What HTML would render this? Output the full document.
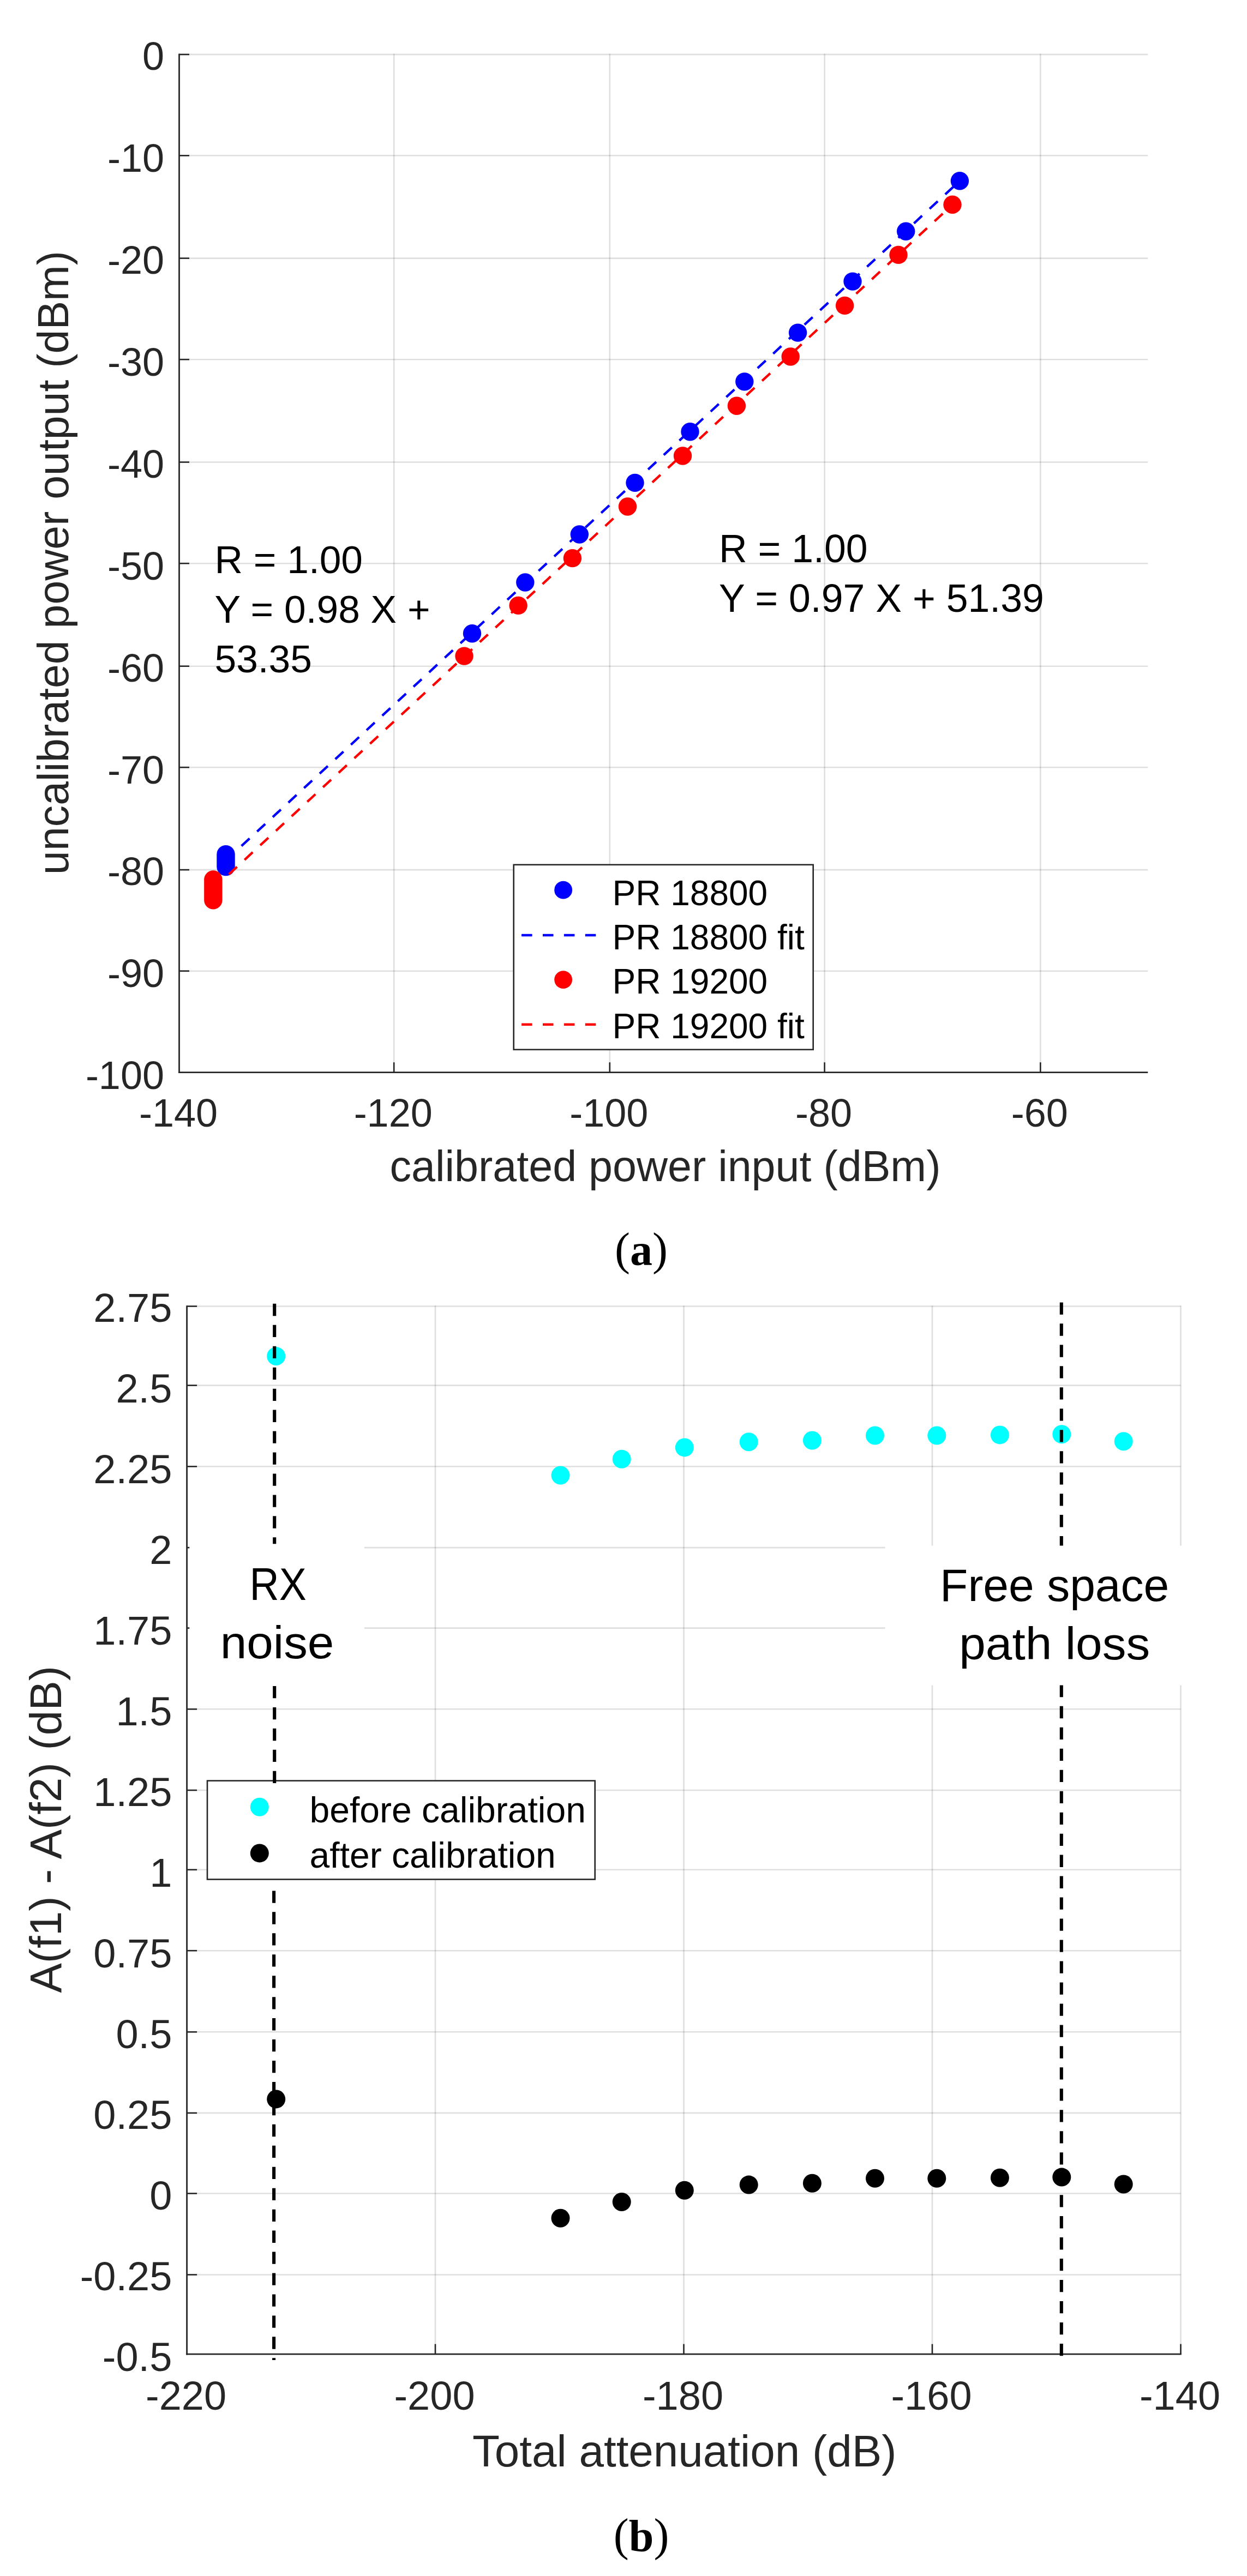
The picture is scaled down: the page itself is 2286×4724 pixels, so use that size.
<!DOCTYPE html>
<html lang="en">
<head>
<meta charset="utf-8">
<title>Figure: calibration plots</title>
<style>
html,body{margin:0;padding:0;background:#fff;}
body{width:2286px;height:4724px;overflow:hidden;}
svg{display:block;}
text{white-space:pre;}
</style>
</head>
<body>
<svg width="2286" height="4724" viewBox="0 0 2286 4724">
<rect x="0" y="0" width="2286" height="4724" fill="#ffffff"/>
<g id="chart-a">
<line x1="328.50" y1="99.90" x2="2104.30" y2="99.90" stroke="#262626" stroke-opacity="0.15" stroke-width="2.6" />
<line x1="328.50" y1="285.30" x2="2104.30" y2="285.30" stroke="#262626" stroke-opacity="0.15" stroke-width="2.6" />
<line x1="328.50" y1="473.60" x2="2104.30" y2="473.60" stroke="#262626" stroke-opacity="0.15" stroke-width="2.6" />
<line x1="328.50" y1="659.20" x2="2104.30" y2="659.20" stroke="#262626" stroke-opacity="0.15" stroke-width="2.6" />
<line x1="328.50" y1="847.50" x2="2104.30" y2="847.50" stroke="#262626" stroke-opacity="0.15" stroke-width="2.6" />
<line x1="328.50" y1="1033.20" x2="2104.30" y2="1033.20" stroke="#262626" stroke-opacity="0.15" stroke-width="2.6" />
<line x1="328.50" y1="1221.70" x2="2104.30" y2="1221.70" stroke="#262626" stroke-opacity="0.15" stroke-width="2.6" />
<line x1="328.50" y1="1407.20" x2="2104.30" y2="1407.20" stroke="#262626" stroke-opacity="0.15" stroke-width="2.6" />
<line x1="328.50" y1="1595.10" x2="2104.30" y2="1595.10" stroke="#262626" stroke-opacity="0.15" stroke-width="2.6" />
<line x1="328.50" y1="1780.70" x2="2104.30" y2="1780.70" stroke="#262626" stroke-opacity="0.15" stroke-width="2.6" />
<line x1="722.20" y1="98.60" x2="722.20" y2="1966.70" stroke="#262626" stroke-opacity="0.15" stroke-width="2.6" />
<line x1="1117.80" y1="98.60" x2="1117.80" y2="1966.70" stroke="#262626" stroke-opacity="0.15" stroke-width="2.6" />
<line x1="1511.60" y1="98.60" x2="1511.60" y2="1966.70" stroke="#262626" stroke-opacity="0.15" stroke-width="2.6" />
<line x1="1907.30" y1="98.60" x2="1907.30" y2="1966.70" stroke="#262626" stroke-opacity="0.15" stroke-width="2.6" />
<line x1="328.50" y1="98.60" x2="328.50" y2="1968.00" stroke="#262626" stroke-width="2.8" />
<line x1="327.10" y1="1966.70" x2="2104.30" y2="1966.70" stroke="#262626" stroke-width="2.8" />
<line x1="328.50" y1="99.90" x2="347.00" y2="99.90" stroke="#262626" stroke-width="2.6" />
<line x1="328.50" y1="285.30" x2="347.00" y2="285.30" stroke="#262626" stroke-width="2.6" />
<line x1="328.50" y1="473.60" x2="347.00" y2="473.60" stroke="#262626" stroke-width="2.6" />
<line x1="328.50" y1="659.20" x2="347.00" y2="659.20" stroke="#262626" stroke-width="2.6" />
<line x1="328.50" y1="847.50" x2="347.00" y2="847.50" stroke="#262626" stroke-width="2.6" />
<line x1="328.50" y1="1033.20" x2="347.00" y2="1033.20" stroke="#262626" stroke-width="2.6" />
<line x1="328.50" y1="1221.70" x2="347.00" y2="1221.70" stroke="#262626" stroke-width="2.6" />
<line x1="328.50" y1="1407.20" x2="347.00" y2="1407.20" stroke="#262626" stroke-width="2.6" />
<line x1="328.50" y1="1595.10" x2="347.00" y2="1595.10" stroke="#262626" stroke-width="2.6" />
<line x1="328.50" y1="1780.70" x2="347.00" y2="1780.70" stroke="#262626" stroke-width="2.6" />
<line x1="722.20" y1="1966.70" x2="722.20" y2="1948.20" stroke="#262626" stroke-width="2.6" />
<line x1="1117.80" y1="1966.70" x2="1117.80" y2="1948.20" stroke="#262626" stroke-width="2.6" />
<line x1="1511.60" y1="1966.70" x2="1511.60" y2="1948.20" stroke="#262626" stroke-width="2.6" />
<line x1="1907.30" y1="1966.70" x2="1907.30" y2="1948.20" stroke="#262626" stroke-width="2.6" />
<text x="301.00" y="128.20" font-size="72" fill="#262626" text-anchor="end" font-family="'Liberation Sans', sans-serif" >0</text>
<text x="301.00" y="315.10" font-size="72" fill="#262626" text-anchor="end" font-family="'Liberation Sans', sans-serif" >-10</text>
<text x="301.00" y="502.00" font-size="72" fill="#262626" text-anchor="end" font-family="'Liberation Sans', sans-serif" >-20</text>
<text x="301.00" y="688.90" font-size="72" fill="#262626" text-anchor="end" font-family="'Liberation Sans', sans-serif" >-30</text>
<text x="301.00" y="875.80" font-size="72" fill="#262626" text-anchor="end" font-family="'Liberation Sans', sans-serif" >-40</text>
<text x="301.00" y="1062.70" font-size="72" fill="#262626" text-anchor="end" font-family="'Liberation Sans', sans-serif" >-50</text>
<text x="301.00" y="1249.60" font-size="72" fill="#262626" text-anchor="end" font-family="'Liberation Sans', sans-serif" >-60</text>
<text x="301.00" y="1436.50" font-size="72" fill="#262626" text-anchor="end" font-family="'Liberation Sans', sans-serif" >-70</text>
<text x="301.00" y="1623.40" font-size="72" fill="#262626" text-anchor="end" font-family="'Liberation Sans', sans-serif" >-80</text>
<text x="301.00" y="1810.30" font-size="72" fill="#262626" text-anchor="end" font-family="'Liberation Sans', sans-serif" >-90</text>
<text x="301.00" y="1997.20" font-size="72" fill="#262626" text-anchor="end" font-family="'Liberation Sans', sans-serif" >-100</text>
<text x="327.00" y="2066.00" font-size="72" fill="#262626" text-anchor="middle" font-family="'Liberation Sans', sans-serif" >-140</text>
<text x="720.70" y="2066.00" font-size="72" fill="#262626" text-anchor="middle" font-family="'Liberation Sans', sans-serif" >-120</text>
<text x="1116.30" y="2066.00" font-size="72" fill="#262626" text-anchor="middle" font-family="'Liberation Sans', sans-serif" >-100</text>
<text x="1510.10" y="2066.00" font-size="72" fill="#262626" text-anchor="middle" font-family="'Liberation Sans', sans-serif" >-80</text>
<text x="1905.80" y="2066.00" font-size="72" fill="#262626" text-anchor="middle" font-family="'Liberation Sans', sans-serif" >-60</text>
<text x="1219.50" y="2166.00" font-size="79" fill="#262626" text-anchor="middle" font-family="'Liberation Sans', sans-serif" >calibrated power input (dBm)</text>
<text transform="translate(124.8 1032) rotate(-90)" font-size="78.85" fill="#262626" text-anchor="middle" font-family="'Liberation Sans', sans-serif">uncalibrated power output (dBm)</text>
<circle cx="1759.4" cy="331.8" r="16.7" fill="#0000ff"/>
<circle cx="1660.7" cy="424.2" r="16.7" fill="#0000ff"/>
<circle cx="1563.0" cy="516.1" r="16.7" fill="#0000ff"/>
<circle cx="1462.6" cy="610.1" r="16.7" fill="#0000ff"/>
<circle cx="1364.8" cy="699.9" r="16.7" fill="#0000ff"/>
<circle cx="1265.0" cy="791.7" r="16.7" fill="#0000ff"/>
<circle cx="1164.0" cy="885.4" r="16.7" fill="#0000ff"/>
<circle cx="1062.3" cy="980.0" r="16.7" fill="#0000ff"/>
<circle cx="962.8" cy="1068.0" r="16.7" fill="#0000ff"/>
<circle cx="865.5" cy="1161.7" r="16.7" fill="#0000ff"/>
<rect x="397.3" y="1549.8999999999999" width="33.4" height="56.4" rx="16.7" fill="#0000ff"/>
<line x1="414.00" y1="1578.00" x2="1759.40" y2="331.80" stroke="#0000ff" stroke-width="4.4" stroke-dasharray="20.3 18.78"/>
<circle cx="1746" cy="375.3" r="16.7" fill="#ff0000"/>
<circle cx="1647" cy="467.4" r="16.7" fill="#ff0000"/>
<circle cx="1548.6" cy="560.4" r="16.7" fill="#ff0000"/>
<circle cx="1449.2" cy="654.0" r="16.7" fill="#ff0000"/>
<circle cx="1350.4" cy="744.2" r="16.7" fill="#ff0000"/>
<circle cx="1251.5" cy="836.0" r="16.7" fill="#ff0000"/>
<circle cx="1150.5" cy="929.0" r="16.7" fill="#ff0000"/>
<circle cx="1049.4" cy="1023.6" r="16.7" fill="#ff0000"/>
<circle cx="950.1" cy="1110.4" r="16.7" fill="#ff0000"/>
<circle cx="851.0" cy="1203.1" r="16.7" fill="#ff0000"/>
<rect x="374.15000000000003" y="1596.3" width="33.4" height="71.19999999999996" rx="16.7" fill="#ff0000"/>
<line x1="390.85" y1="1630.00" x2="1746.00" y2="375.30" stroke="#ff0000" stroke-width="4.4" stroke-dasharray="20.3 18.88"/>
<text x="393.50" y="1050.50" font-size="71.3" fill="#000" text-anchor="start" font-family="'Liberation Sans', sans-serif" >R = 1.00</text>
<text x="393.50" y="1141.90" font-size="71.3" fill="#000" text-anchor="start" font-family="'Liberation Sans', sans-serif" >Y = 0.98 X +</text>
<text x="393.50" y="1233.30" font-size="71.3" fill="#000" text-anchor="start" font-family="'Liberation Sans', sans-serif" >53.35</text>
<text x="1318.00" y="1031.00" font-size="71.6" fill="#000" text-anchor="start" font-family="'Liberation Sans', sans-serif" >R = 1.00</text>
<text x="1318.00" y="1122.40" font-size="71.6" fill="#000" text-anchor="start" font-family="'Liberation Sans', sans-serif" >Y = 0.97 X + 51.39</text>
<rect x="941.7" y="1585.8" width="549.0" height="339.0" fill="#fff" stroke="#262626" stroke-width="2.6"/>
<circle cx="1032.6" cy="1632.2" r="16.4" fill="#0000ff"/>
<line x1="956.10" y1="1715.00" x2="1092.30" y2="1715.00" stroke="#0000ff" stroke-width="4.4" stroke-dasharray="19.5 19.4"/>
<circle cx="1032.6" cy="1796.6" r="16.4" fill="#ff0000"/>
<line x1="956.10" y1="1878.70" x2="1092.30" y2="1878.70" stroke="#ff0000" stroke-width="4.4" stroke-dasharray="19.5 19.4"/>
<text x="1122.50" y="1659.60" font-size="64" fill="#000" text-anchor="start" font-family="'Liberation Sans', sans-serif" >PR 18800</text>
<text x="1122.50" y="1740.50" font-size="64" fill="#000" text-anchor="start" font-family="'Liberation Sans', sans-serif" >PR 18800 fit</text>
<text x="1122.50" y="1822.30" font-size="64" fill="#000" text-anchor="start" font-family="'Liberation Sans', sans-serif" >PR 19200</text>
<text x="1122.50" y="1904.10" font-size="64" fill="#000" text-anchor="start" font-family="'Liberation Sans', sans-serif" >PR 19200 fit</text>
</g>
<text x="1175.6" y="2319.9" font-size="82" fill="#000" text-anchor="middle" font-family="'Liberation Serif', 'DejaVu Serif', serif"><tspan font-size="84" dy="-1">(</tspan><tspan font-weight="bold" dy="1">a</tspan><tspan font-size="84" dy="-1">)</tspan></text>
<g id="chart-b">
<line x1="342.60" y1="2395.50" x2="2164.50" y2="2395.50" stroke="#262626" stroke-opacity="0.15" stroke-width="2.6" />
<line x1="342.60" y1="2540.60" x2="2164.50" y2="2540.60" stroke="#262626" stroke-opacity="0.15" stroke-width="2.6" />
<line x1="342.60" y1="2689.30" x2="2164.50" y2="2689.30" stroke="#262626" stroke-opacity="0.15" stroke-width="2.6" />
<line x1="342.60" y1="2838.10" x2="2164.50" y2="2838.10" stroke="#262626" stroke-opacity="0.15" stroke-width="2.6" />
<line x1="342.60" y1="2985.60" x2="2164.50" y2="2985.60" stroke="#262626" stroke-opacity="0.15" stroke-width="2.6" />
<line x1="342.60" y1="3134.30" x2="2164.50" y2="3134.30" stroke="#262626" stroke-opacity="0.15" stroke-width="2.6" />
<line x1="342.60" y1="3283.00" x2="2164.50" y2="3283.00" stroke="#262626" stroke-opacity="0.15" stroke-width="2.6" />
<line x1="342.60" y1="3428.80" x2="2164.50" y2="3428.80" stroke="#262626" stroke-opacity="0.15" stroke-width="2.6" />
<line x1="342.60" y1="3577.20" x2="2164.50" y2="3577.20" stroke="#262626" stroke-opacity="0.15" stroke-width="2.6" />
<line x1="342.60" y1="3726.30" x2="2164.50" y2="3726.30" stroke="#262626" stroke-opacity="0.15" stroke-width="2.6" />
<line x1="342.60" y1="3874.90" x2="2164.50" y2="3874.90" stroke="#262626" stroke-opacity="0.15" stroke-width="2.6" />
<line x1="342.60" y1="4022.50" x2="2164.50" y2="4022.50" stroke="#262626" stroke-opacity="0.15" stroke-width="2.6" />
<line x1="342.60" y1="4171.50" x2="2164.50" y2="4171.50" stroke="#262626" stroke-opacity="0.15" stroke-width="2.6" />
<line x1="798.00" y1="2394.20" x2="798.00" y2="4317.10" stroke="#262626" stroke-opacity="0.15" stroke-width="2.6" />
<line x1="1253.50" y1="2394.20" x2="1253.50" y2="4317.10" stroke="#262626" stroke-opacity="0.15" stroke-width="2.6" />
<line x1="1709.00" y1="2394.20" x2="1709.00" y2="4317.10" stroke="#262626" stroke-opacity="0.15" stroke-width="2.6" />
<line x1="2164.50" y1="2394.20" x2="2164.50" y2="4317.10" stroke="#262626" stroke-opacity="0.15" stroke-width="2.6" />
<line x1="342.60" y1="2394.20" x2="342.60" y2="4318.40" stroke="#262626" stroke-width="2.8" />
<line x1="341.20" y1="4317.10" x2="2165.80" y2="4317.10" stroke="#262626" stroke-width="2.8" />
<line x1="342.60" y1="2395.50" x2="361.10" y2="2395.50" stroke="#262626" stroke-width="2.6" />
<line x1="342.60" y1="2540.60" x2="361.10" y2="2540.60" stroke="#262626" stroke-width="2.6" />
<line x1="342.60" y1="2689.30" x2="361.10" y2="2689.30" stroke="#262626" stroke-width="2.6" />
<line x1="342.60" y1="2838.10" x2="361.10" y2="2838.10" stroke="#262626" stroke-width="2.6" />
<line x1="342.60" y1="2985.60" x2="361.10" y2="2985.60" stroke="#262626" stroke-width="2.6" />
<line x1="342.60" y1="3134.30" x2="361.10" y2="3134.30" stroke="#262626" stroke-width="2.6" />
<line x1="342.60" y1="3283.00" x2="361.10" y2="3283.00" stroke="#262626" stroke-width="2.6" />
<line x1="342.60" y1="3428.80" x2="361.10" y2="3428.80" stroke="#262626" stroke-width="2.6" />
<line x1="342.60" y1="3577.20" x2="361.10" y2="3577.20" stroke="#262626" stroke-width="2.6" />
<line x1="342.60" y1="3726.30" x2="361.10" y2="3726.30" stroke="#262626" stroke-width="2.6" />
<line x1="342.60" y1="3874.90" x2="361.10" y2="3874.90" stroke="#262626" stroke-width="2.6" />
<line x1="342.60" y1="4022.50" x2="361.10" y2="4022.50" stroke="#262626" stroke-width="2.6" />
<line x1="342.60" y1="4171.50" x2="361.10" y2="4171.50" stroke="#262626" stroke-width="2.6" />
<line x1="798.00" y1="4317.10" x2="798.00" y2="4298.60" stroke="#262626" stroke-width="2.6" />
<line x1="1253.50" y1="4317.10" x2="1253.50" y2="4298.60" stroke="#262626" stroke-width="2.6" />
<line x1="1709.00" y1="4317.10" x2="1709.00" y2="4298.60" stroke="#262626" stroke-width="2.6" />
<line x1="2164.50" y1="4317.10" x2="2164.50" y2="4298.60" stroke="#262626" stroke-width="2.6" />
<text x="315.30" y="2423.70" font-size="74" fill="#262626" text-anchor="end" font-family="'Liberation Sans', sans-serif" >2.75</text>
<text x="315.30" y="2571.73" font-size="74" fill="#262626" text-anchor="end" font-family="'Liberation Sans', sans-serif" >2.5</text>
<text x="315.30" y="2719.76" font-size="74" fill="#262626" text-anchor="end" font-family="'Liberation Sans', sans-serif" >2.25</text>
<text x="315.30" y="2867.79" font-size="74" fill="#262626" text-anchor="end" font-family="'Liberation Sans', sans-serif" >2</text>
<text x="315.30" y="3015.82" font-size="74" fill="#262626" text-anchor="end" font-family="'Liberation Sans', sans-serif" >1.75</text>
<text x="315.30" y="3163.85" font-size="74" fill="#262626" text-anchor="end" font-family="'Liberation Sans', sans-serif" >1.5</text>
<text x="315.30" y="3311.88" font-size="74" fill="#262626" text-anchor="end" font-family="'Liberation Sans', sans-serif" >1.25</text>
<text x="315.30" y="3459.91" font-size="74" fill="#262626" text-anchor="end" font-family="'Liberation Sans', sans-serif" >1</text>
<text x="315.30" y="3607.94" font-size="74" fill="#262626" text-anchor="end" font-family="'Liberation Sans', sans-serif" >0.75</text>
<text x="315.30" y="3755.97" font-size="74" fill="#262626" text-anchor="end" font-family="'Liberation Sans', sans-serif" >0.5</text>
<text x="315.30" y="3904.00" font-size="74" fill="#262626" text-anchor="end" font-family="'Liberation Sans', sans-serif" >0.25</text>
<text x="315.30" y="4052.03" font-size="74" fill="#262626" text-anchor="end" font-family="'Liberation Sans', sans-serif" >0</text>
<text x="315.30" y="4200.06" font-size="74" fill="#262626" text-anchor="end" font-family="'Liberation Sans', sans-serif" >-0.25</text>
<text x="315.30" y="4348.09" font-size="74" fill="#262626" text-anchor="end" font-family="'Liberation Sans', sans-serif" >-0.5</text>
<text x="341.10" y="4418.60" font-size="74" fill="#262626" text-anchor="middle" font-family="'Liberation Sans', sans-serif" >-220</text>
<text x="796.50" y="4418.60" font-size="74" fill="#262626" text-anchor="middle" font-family="'Liberation Sans', sans-serif" >-200</text>
<text x="1252.00" y="4418.60" font-size="74" fill="#262626" text-anchor="middle" font-family="'Liberation Sans', sans-serif" >-180</text>
<text x="1707.50" y="4418.60" font-size="74" fill="#262626" text-anchor="middle" font-family="'Liberation Sans', sans-serif" >-160</text>
<text x="2163.00" y="4418.60" font-size="74" fill="#262626" text-anchor="middle" font-family="'Liberation Sans', sans-serif" >-140</text>
<text x="1254.70" y="4522.60" font-size="81.8" fill="#262626" text-anchor="middle" font-family="'Liberation Sans', sans-serif" >Total attenuation (dB)</text>
<text transform="translate(112.1 3354.9) rotate(-90)" font-size="81.8" fill="#262626" text-anchor="middle" font-family="'Liberation Sans', sans-serif">A(f1) - A(f2) (dB)</text>
<circle cx="506.2" cy="2487.1" r="17.0" fill="#00ffff"/>
<circle cx="1027.5" cy="2705.5" r="17.0" fill="#00ffff"/>
<circle cx="1139.7" cy="2675.7" r="17.0" fill="#00ffff"/>
<circle cx="1254.8" cy="2654.4" r="17.0" fill="#00ffff"/>
<circle cx="1372.7" cy="2644.3" r="17.0" fill="#00ffff"/>
<circle cx="1488.9" cy="2641.5" r="17.0" fill="#00ffff"/>
<circle cx="1604.0" cy="2632.5" r="17.0" fill="#00ffff"/>
<circle cx="1717.3" cy="2632.5" r="17.0" fill="#00ffff"/>
<circle cx="1832.9" cy="2631.4" r="17.0" fill="#00ffff"/>
<circle cx="1946.3" cy="2630.3" r="17.0" fill="#00ffff"/>
<circle cx="2059.7" cy="2643.2" r="17.0" fill="#00ffff"/>
<circle cx="506.2" cy="3849.4" r="17.0" fill="#000"/>
<circle cx="1027.5" cy="4067.8" r="17.0" fill="#000"/>
<circle cx="1139.7" cy="4038.0" r="17.0" fill="#000"/>
<circle cx="1254.8" cy="4016.7" r="17.0" fill="#000"/>
<circle cx="1372.7" cy="4006.6" r="17.0" fill="#000"/>
<circle cx="1488.9" cy="4003.8" r="17.0" fill="#000"/>
<circle cx="1604.0" cy="3994.8" r="17.0" fill="#000"/>
<circle cx="1717.3" cy="3994.8" r="17.0" fill="#000"/>
<circle cx="1832.9" cy="3993.7" r="17.0" fill="#000"/>
<circle cx="1946.3" cy="3992.6" r="17.0" fill="#000"/>
<circle cx="2059.7" cy="4005.5" r="17.0" fill="#000"/>
<rect x="347.3" y="2832" width="320.5" height="259" fill="#fff"/>
<rect x="1622.5" y="2834.5" width="600" height="256" fill="#fff"/>
<text transform="translate(509.7 2933.8) scale(0.893 1)" font-size="84" fill="#000" text-anchor="middle" font-family="'Liberation Sans', sans-serif">RX</text>
<text transform="translate(508.1 3041.0) scale(1.039 1)" font-size="84" fill="#000" text-anchor="middle" font-family="'Liberation Sans', sans-serif">noise</text>
<text transform="translate(1933.2 2936) scale(1.0 1)" font-size="84" fill="#000" text-anchor="middle" font-family="'Liberation Sans', sans-serif">Free space</text>
<text transform="translate(1933.2 3042.7) scale(1.041 1)" font-size="84" fill="#000" text-anchor="middle" font-family="'Liberation Sans', sans-serif">path loss</text>
<rect x="380" y="3265.6" width="710.7" height="180.9000000000001" fill="#fff" stroke="#262626" stroke-width="2.6"/>
<circle cx="475.8" cy="3313.7" r="17" fill="#00ffff"/>
<circle cx="475.8" cy="3398.4" r="17" fill="#000"/>
<text x="567.60" y="3341.60" font-size="66" fill="#000" text-anchor="start" font-family="'Liberation Sans', sans-serif" >before calibration</text>
<text x="567.60" y="3425.20" font-size="66" fill="#000" text-anchor="start" font-family="'Liberation Sans', sans-serif" >after calibration</text>
<line x1="503.2" y1="2390.85" x2="503.2" y2="2831.30" stroke="#000" stroke-width="6.1" stroke-dasharray="22.3 16.65" stroke-dashoffset="0.00"/>
<line x1="503.2" y1="3091.80" x2="503.2" y2="3269.90" stroke="#000" stroke-width="6.1" stroke-dasharray="22.3 16.65" stroke-dashoffset="38.80"/>
<line x1="502.1" y1="3460.00" x2="502.1" y2="4328.00" stroke="#000" stroke-width="6.1" stroke-dasharray="22.3 16.65" stroke-dashoffset="31.55"/>
<line x1="1945.8" y1="2388.40" x2="1945.8" y2="2834.50" stroke="#000" stroke-width="6.1" stroke-dasharray="22.3 16.67" stroke-dashoffset="0.00"/>
<line x1="1945.8" y1="3090.60" x2="1945.8" y2="4325.00" stroke="#000" stroke-width="6.1" stroke-dasharray="22.3 16.67" stroke-dashoffset="0.74"/>
</g>
<text x="1175.6" y="4677.5" font-size="82" fill="#000" text-anchor="middle" font-family="'Liberation Serif', 'DejaVu Serif', serif"><tspan font-size="84" dy="-1">(</tspan><tspan font-weight="bold" dy="1">b</tspan><tspan font-size="84" dy="-1">)</tspan></text>
</svg>
</body>
</html>
